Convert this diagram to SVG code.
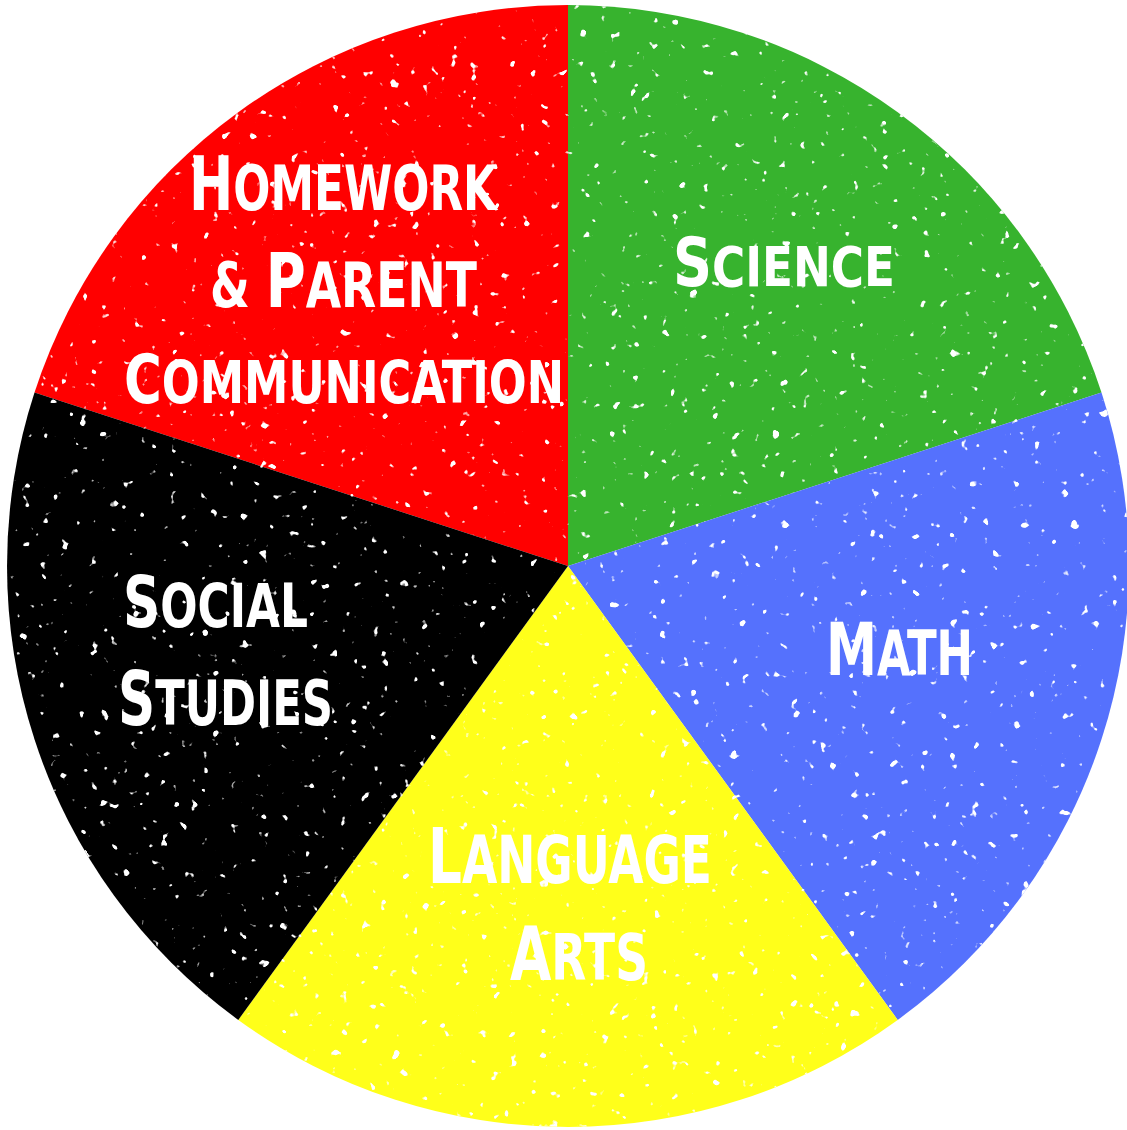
<svg xmlns="http://www.w3.org/2000/svg" width="1127" height="1130" viewBox="0 0 1127 1130">
<style>
  .lbl { font-family: "DejaVu Sans Condensed", "DejaVu Sans", "Liberation Sans", sans-serif; font-weight: bold; fill: #ffffff; }
</style>
<defs>
  <clipPath id="circ"><circle cx="568" cy="566" r="561"/></clipPath>
  <filter id="speck" x="0" y="0" width="1127" height="1130" filterUnits="userSpaceOnUse">
    <feTurbulence type="fractalNoise" baseFrequency="0.1" numOctaves="2" seed="7" result="n"/>
    <feColorMatrix in="n" type="matrix" values="0 0 0 0 1  0 0 0 0 1  0 0 0 0 1  16 0 0 0 -11.3"/>
  </filter>
</defs>
<rect width="1127" height="1130" fill="#ffffff"/>
<g id="slice-homework">
  <path d="M568,566 L34.5,392.6 A561,561 0 0 1 568,5 Z" fill="#ff0000"/>
</g>
<g id="slice-science">
  <path d="M568,566 L568,5 A561,561 0 0 1 1101.5,392.6 Z" fill="#37b32e"/>
</g>
<g id="slice-math">
  <path d="M568,566 L1101.5,392.6 A561,561 0 0 1 897.7,1019.9 Z" fill="#5571fd"/>
</g>
<g id="slice-language-arts">
  <path d="M568,566 L897.7,1019.9 A561,561 0 0 1 238.3,1019.9 Z" fill="#ffff1a"/>
</g>
<g id="slice-social-studies">
  <path d="M568,566 L238.3,1019.9 A561,561 0 0 1 34.5,392.6 Z" fill="#000000"/>
</g>
<g id="texture" clip-path="url(#circ)">
  <rect x="0" y="0" width="1127" height="1130" filter="url(#speck)"/>
</g>
<g id="labels">
  <text class="lbl" x="189" y="210" textLength="308" lengthAdjust="spacingAndGlyphs"><tspan font-size="75">H</tspan><tspan font-size="62">OMEWORK</tspan></text>
  <text class="lbl" x="210" y="307" textLength="267" lengthAdjust="spacingAndGlyphs"><tspan font-size="62">&amp; </tspan><tspan font-size="74">P</tspan><tspan font-size="62">ARENT</tspan></text>
  <text class="lbl" x="124" y="403" textLength="440" lengthAdjust="spacingAndGlyphs"><tspan font-size="67">C</tspan><tspan font-size="58">OMMUNICATION</tspan></text>
  <text class="lbl" x="673" y="286" textLength="222" lengthAdjust="spacingAndGlyphs"><tspan font-size="67">S</tspan><tspan font-size="56">CIENCE</tspan></text>
  <text class="lbl" x="826" y="675" textLength="147" lengthAdjust="spacingAndGlyphs"><tspan font-size="73">M</tspan><tspan font-size="62">ATH</tspan></text>
  <text class="lbl" x="123" y="627" textLength="185" lengthAdjust="spacingAndGlyphs"><tspan font-size="72">S</tspan><tspan font-size="61">OCIAL</tspan></text>
  <text class="lbl" x="118" y="725" textLength="215" lengthAdjust="spacingAndGlyphs"><tspan font-size="75">S</tspan><tspan font-size="63">TUDIES</tspan></text>
  <text class="lbl" x="428" y="883" textLength="284" lengthAdjust="spacingAndGlyphs"><tspan font-size="77">L</tspan><tspan font-size="66">ANGUAGE</tspan></text>
  <text class="lbl" x="510" y="980" textLength="138" lengthAdjust="spacingAndGlyphs"><tspan font-size="75">A</tspan><tspan font-size="64">RTS</tspan></text>
</g>
</svg>
